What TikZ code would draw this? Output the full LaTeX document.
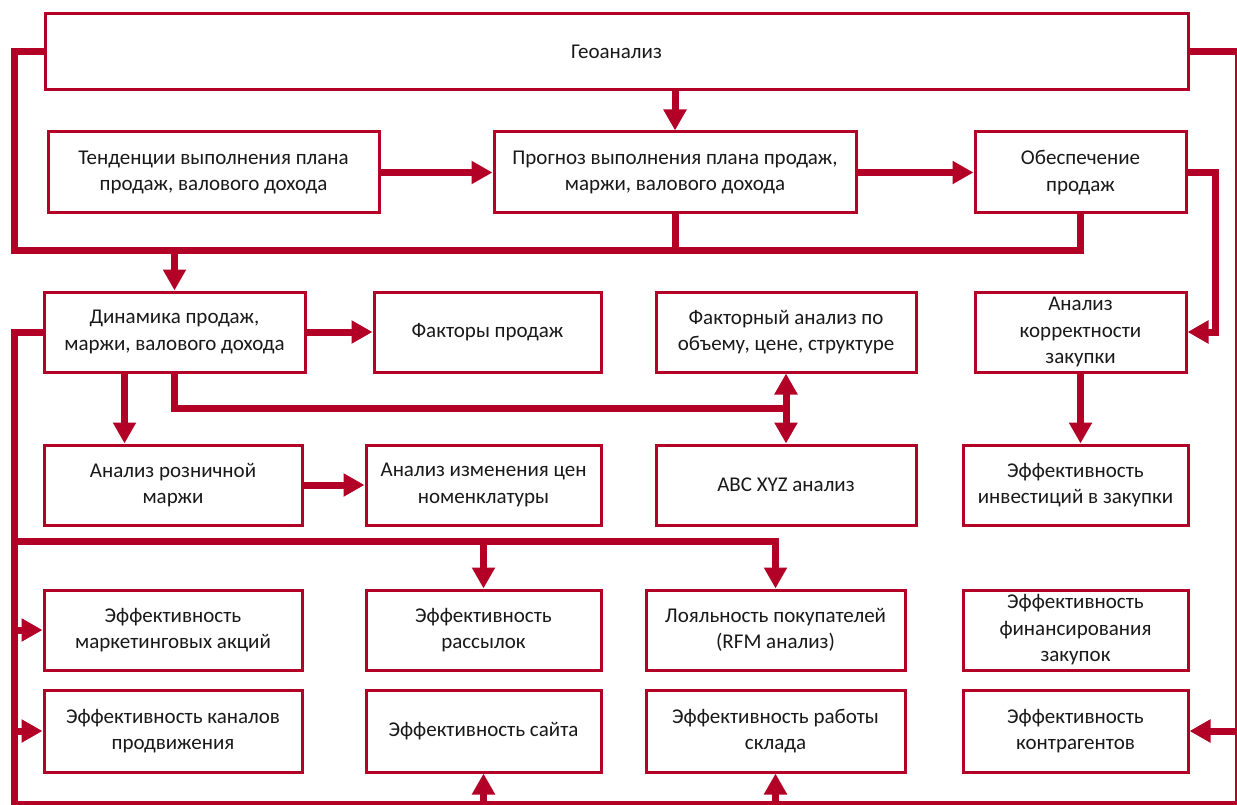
\documentclass[tikz,border=0pt]{standalone}
\usepackage{fontspec}
\setmainfont{Carlito}
\usetikzlibrary{arrows.meta}
\definecolor{dr}{RGB}{178,0,38}
\begin{document}
\begin{tikzpicture}[x=1pt,y=-1pt,
  box/.style={draw=dr, line width=3pt, fill=white, align=center, inner sep=0pt,
    font=\fontsize{21}{26.5}\selectfont, text=black!90},
  conn/.style={draw=dr, line width=7pt},
  arr/.style={conn, -{Triangle[length=21pt,width=22pt]}}]
\useasboundingbox (0,0) rectangle (1237,805);
% boxes
\node[box, minimum width=1143pt, minimum height=76pt] (geo) at (616.5,52) {Геоанализ};
\node[box, minimum width=331pt, minimum height=81pt] (tend) at (213.5,172.5) {Тенденции выполнения плана\\продаж, валового дохода};
\node[box, minimum width=362pt, minimum height=81pt] (prog) at (675,172.5) {Прогноз выполнения плана продаж,\\маржи, валового дохода};
\node[box, minimum width=211pt, minimum height=81pt] (obesp) at (1080.5,172.5) {Обеспечение\\продаж};
\node[box, minimum width=261pt, minimum height=80pt] (dyn) at (174.5,332) {Динамика продаж,\\маржи, валового дохода};
\node[box, minimum width=227pt, minimum height=80pt] (fakt) at (487.5,332) {Факторы продаж};
\node[box, minimum width=260pt, minimum height=80pt] (fanal) at (786,332) {Факторный анализ по\\объему, цене, структуре};
\node[box, minimum width=211pt, minimum height=80pt] (korr) at (1080.5,332) {Анализ\\корректности\\закупки};
\node[box, minimum width=258pt, minimum height=80pt] (rozn) at (173,485) {Анализ розничной\\маржи};
\node[box, minimum width=235pt, minimum height=80pt] (cen) at (483.5,485) {Анализ изменения цен\\номенклатуры};
\node[box, minimum width=260pt, minimum height=80pt] (abc) at (786,485) {ABC XYZ анализ};
\node[box, minimum width=225pt, minimum height=80pt] (invest) at (1075.5,485) {Эффективность\\инвестиций в закупки};
\node[box, minimum width=258pt, minimum height=80pt] (mark) at (173,630) {Эффективность\\маркетинговых акций};
\node[box, minimum width=235pt, minimum height=80pt] (rass) at (483.5,630) {Эффективность\\рассылок};
\node[box, minimum width=259pt, minimum height=80pt] (loyal) at (775.5,630) {Лояльность покупателей\\(RFM анализ)};
\node[box, minimum width=225pt, minimum height=80pt] (fin) at (1075.5,630) {Эффективность\\финансирования\\закупок};
\node[box, minimum width=258pt, minimum height=82pt] (kanal) at (173,731) {Эффективность каналов\\продвижения};
\node[box, minimum width=235pt, minimum height=82pt] (sait) at (483.5,731) {Эффективность сайта};
\node[box, minimum width=259pt, minimum height=82pt] (sklad) at (775.5,731) {Эффективность работы\\склада};
\node[box, minimum width=225pt, minimum height=82pt] (kontr) at (1075.5,731) {Эффективность\\контрагентов};
% bus coordinates
\coordinate (LT) at (14,251);
\coordinate (BL) at (14,804);
\coordinate (BR) at (1238,804);
\coordinate (TR) at (1238,52);
\coordinate (MB) at (14,541);
\coordinate (DB) at (174.5,408);
\coordinate (DX) at (786,408);
\coordinate (OR) at (1215,172.5);
% connectors
\draw[conn] (geo.west) -| (LT) -| (obesp.south);
\draw[conn] (prog.south) -- (prog.south |- LT);
\draw[arr] (dyn.north |- LT) -- (dyn.north);
\draw[arr] (prog.north |- geo.south) -- (prog.north);
\draw[arr] (tend.east) -- (tend.east -| prog.west);
\draw[arr] (prog.east) -- (prog.east -| obesp.west);
\draw[arr] (obesp.east) -- (OR) |- (korr.east);
\draw[arr] (korr.south) -- (korr.south |- invest.north);
\draw[conn] (dyn.west) -| (BL) -- (BR) -- (TR) -- (geo.east);
\draw[arr] (kontr.east -| BR) -- (kontr.east);
\draw[arr] (dyn.east) -- (dyn.east -| fakt.west);
\draw[arr] ([xshift=-50pt]dyn.south) -- ([xshift=-50pt]dyn.south |- rozn.north);
\draw[conn] (dyn.south) -- (DB) -- (DX);
\draw[arr] (DX) -- (fanal.south);
\draw[arr] (DX) -- (abc.north);
\draw[arr] (rozn.east) -- (rozn.east -| cen.west);
\draw[arr] (MB) -| (loyal.north);
\draw[arr] (rass.north |- MB) -- (rass.north);
\draw[arr] (mark.west -| BL) -- (mark.west);
\draw[arr] (kanal.west -| BL) -- (kanal.west);
\draw[arr] (sait.south |- BL) -- (sait.south);
\draw[arr] (sklad.south |- BL) -- (sklad.south);
\end{tikzpicture}
\end{document}
